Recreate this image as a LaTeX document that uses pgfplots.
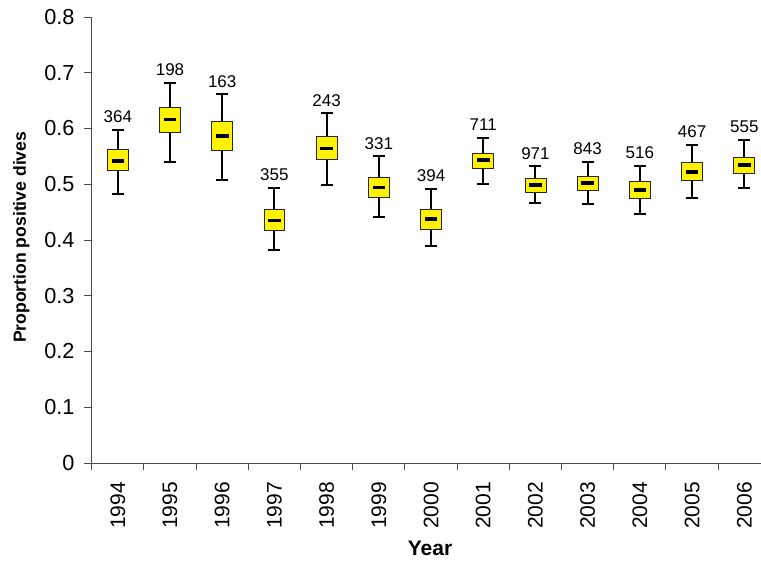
\documentclass[border=0pt]{standalone}
\usepackage{fontspec}
\setmainfont{Liberation Sans}
\usepackage{pgfplots}
\pgfplotsset{compat=1.18}
\usepgfplotslibrary{statistics}
\pgfplotstableread{
x y n
0 0.598 364
1 0.682 198
2 0.661 163
3 0.494 355
4 0.627 243
5 0.550 331
6 0.491 394
7 0.583 711
8 0.532 971
9 0.540 843
10 0.533 516
11 0.571 467
12 0.579 555
}\labels
\pgfplotstableread{
x y
0 0.542
1 0.616
2 0.587
3 0.435
4 0.564
5 0.494
6 0.4375
7 0.543
8 0.4985
9 0.502
10 0.490
11 0.522
12 0.534
}\medians
\begin{document}
\begin{tikzpicture}
\begin{axis}[
  at={(0,0)}, anchor=south west,
  scale only axis, width=669.3pt, height=446pt,
  xmin=-0.5, xmax=12.32, ymin=0, ymax=0.8,
  clip=false,
  axis x line*=bottom, axis y line*=left,
  x axis line style={-, black!70, line width=1pt},
  y axis line style={-, black!70, line width=1pt},
  tick align=outside,
  ytick={0,0.1,0.2,0.3,0.4,0.5,0.6,0.7,0.8},
  yticklabels={0,0.1,0.2,0.3,0.4,0.5,0.6,0.7,0.8},
  ytick style={black!70, line width=1pt},
  major tick length=8pt,
  minor tick length=7pt,
  xtick={0,1,2,3,4,5,6,7,8,9,10,11,12},
  xticklabels={1994,1995,1996,1997,1998,1999,2000,2001,2002,2003,2004,2005,2006},
  xtick style={draw=none},
  minor xtick={-0.5,0.5,1.5,2.5,3.5,4.5,5.5,6.5,7.5,8.5,9.5,10.5,11.5},
  minor x tick style={draw=black!70, line width=1pt},
  yticklabel style={font=\fontsize{21.7}{22}\selectfont, anchor=east, inner sep=0pt, xshift=-9pt},
  xticklabel style={font=\fontsize{21}{21}\selectfont, yshift=-11pt, rotate=90, anchor=east, inner sep=0pt},
  every axis y label/.style={at={(rel axis cs:-0.105,0.506)}, anchor=center, rotate=90, font=\fontsize{17.6}{18}\selectfont\bfseries},
  every axis x label/.style={at={(rel axis cs:0.5055,-0.1906)}, anchor=center, font=\fontsize{21}{21}\selectfont\bfseries},
  ylabel={Proportion positive dives},
  xlabel={Year},
  boxplot/draw direction=y,
  boxplot/box extend=0.40,
  boxplot/whisker extend=0.23,
  boxplot/every box/.style={draw=black!85, line width=0.8pt, fill=yellow},
  boxplot/every whisker/.style={black, line width=2pt},
  boxplot/every median/.style={draw=none},
]
\addplot[black, boxplot prepared={draw position=0, lower whisker=0.482, lower quartile=0.524, median=0.542, upper quartile=0.562, upper whisker=0.598}] coordinates {};
\addplot[black, boxplot prepared={draw position=1, lower whisker=0.540, lower quartile=0.593, median=0.616, upper quartile=0.638, upper whisker=0.682}] coordinates {};
\addplot[black, boxplot prepared={draw position=2, lower whisker=0.508, lower quartile=0.560, median=0.587, upper quartile=0.612, upper whisker=0.661}] coordinates {};
\addplot[black, boxplot prepared={draw position=3, lower whisker=0.382, lower quartile=0.417, median=0.435, upper quartile=0.454, upper whisker=0.494}] coordinates {};
\addplot[black, boxplot prepared={draw position=4, lower whisker=0.498, lower quartile=0.544, median=0.564, upper quartile=0.585, upper whisker=0.627}] coordinates {};
\addplot[black, boxplot prepared={draw position=5, lower whisker=0.441, lower quartile=0.476, median=0.494, upper quartile=0.513, upper whisker=0.550}] coordinates {};
\addplot[black, boxplot prepared={draw position=6, lower whisker=0.390, lower quartile=0.4195, median=0.4375, upper quartile=0.454, upper whisker=0.491}] coordinates {};
\addplot[black, boxplot prepared={draw position=7, lower whisker=0.501, lower quartile=0.528, median=0.543, upper quartile=0.555, upper whisker=0.583}] coordinates {};
\addplot[black, boxplot prepared={draw position=8, lower whisker=0.4655, lower quartile=0.486, median=0.4985, upper quartile=0.510, upper whisker=0.532}] coordinates {};
\addplot[black, boxplot prepared={draw position=9, lower whisker=0.465, lower quartile=0.4895, median=0.502, upper quartile=0.514, upper whisker=0.540}] coordinates {};
\addplot[black, boxplot prepared={draw position=10, lower whisker=0.4475, lower quartile=0.474, median=0.490, upper quartile=0.505, upper whisker=0.533}] coordinates {};
\addplot[black, boxplot prepared={draw position=11, lower whisker=0.475, lower quartile=0.507, median=0.522, upper quartile=0.539, upper whisker=0.571}] coordinates {};
\addplot[black, boxplot prepared={draw position=12, lower whisker=0.493, lower quartile=0.520, median=0.534, upper quartile=0.549, upper whisker=0.579}] coordinates {};
\addplot[only marks, mark=-, mark size=6.3pt, mark options={black, line width=3.6pt}] table[x=x, y=y] {\medians};
\addplot[draw=none, nodes near coords, point meta=explicit symbolic,
  nodes near coords style={anchor=south, inner sep=0pt, yshift=7pt, font=\fontsize{17}{17}\selectfont, black}]
  table[x=x, y=y, meta=n] {\labels};
\end{axis}
\pgfresetboundingbox
\path (-91.7pt,-100pt) rectangle (669.3pt,463pt);
\end{tikzpicture}
\end{document}
